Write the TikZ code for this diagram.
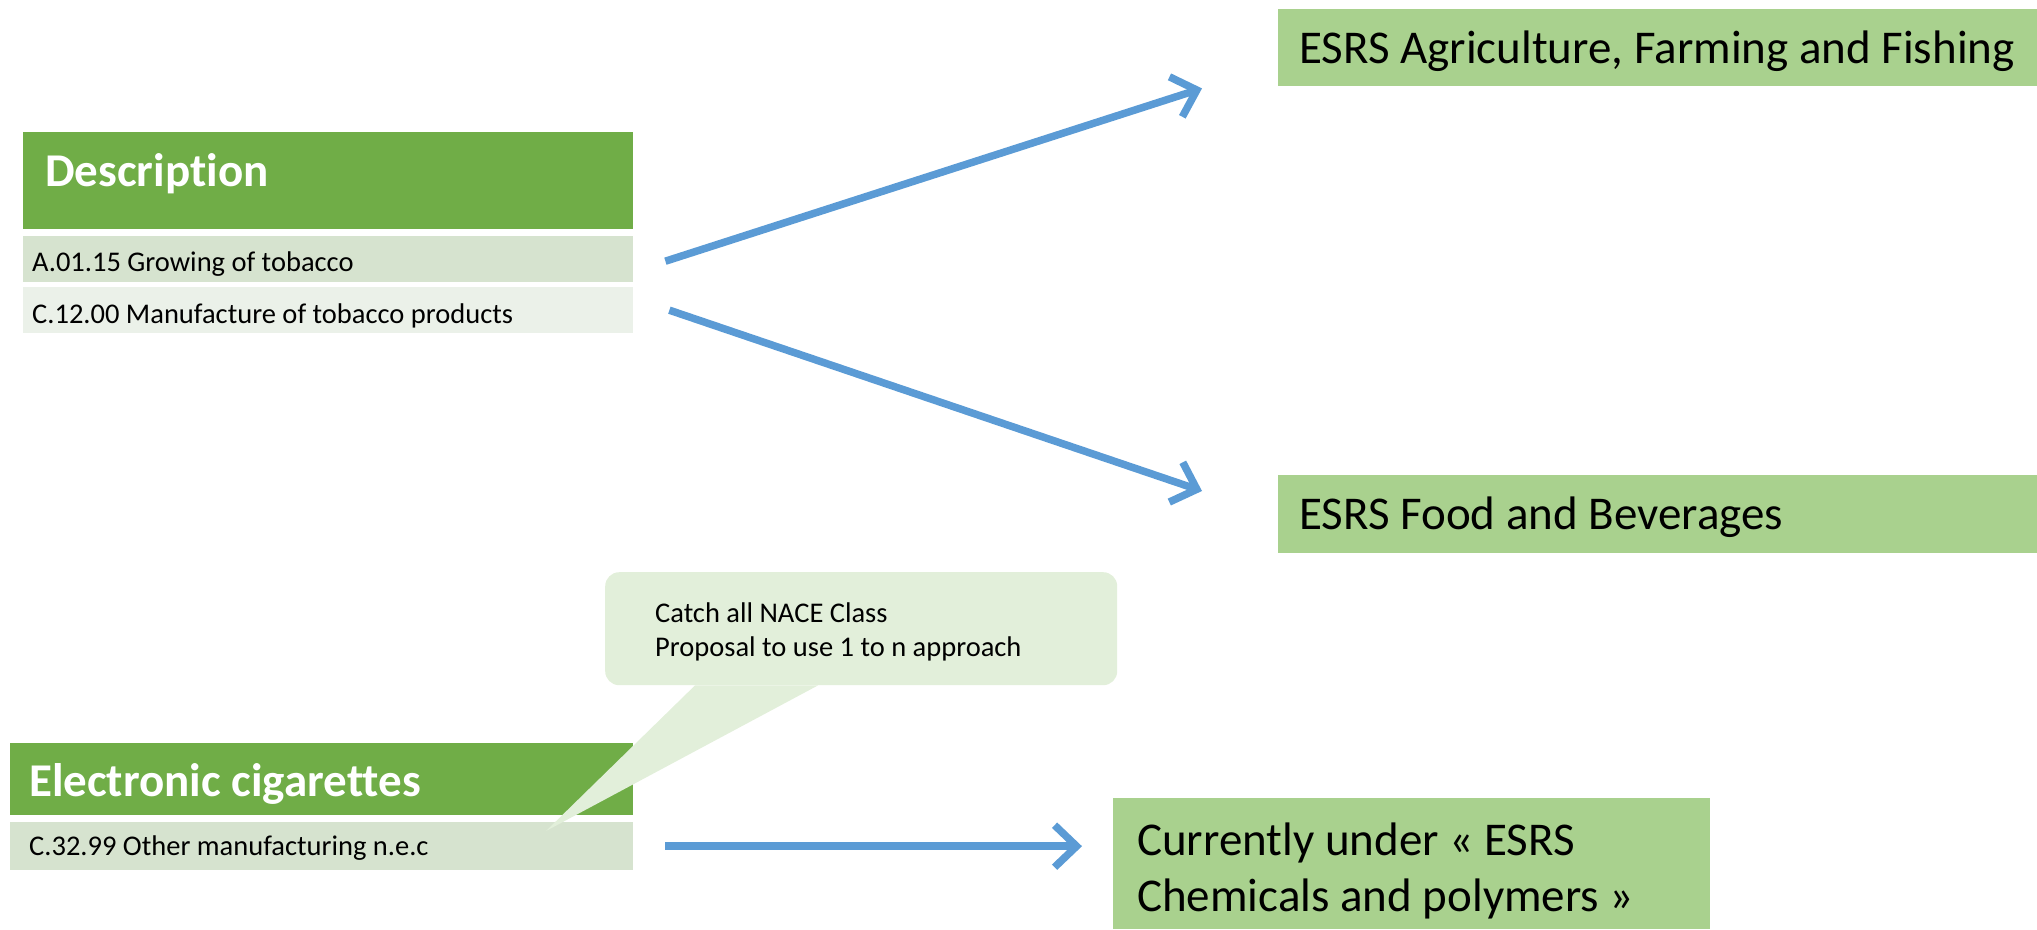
\documentclass[tikz,border=0pt]{standalone}
\usepackage{fontspec}
\setmainfont{Carlito}[Ligatures={NoCommon}]
\usetikzlibrary{arrows.meta,calc}
\definecolor{hdrgreen}{HTML}{70AD47}
\definecolor{rowa}{HTML}{D6E3CF}
\definecolor{rowb}{HTML}{EBF1E9}
\definecolor{tgtgreen}{HTML}{A9D18E}
\definecolor{callgreen}{HTML}{E2EFDA}
\definecolor{arrowblue}{HTML}{5B9BD5}
\tikzset{
  box/.style={rectangle, inner sep=0pt, anchor=north west},
  hdr/.style={box, fill=hdrgreen},
  rowA/.style={box, fill=rowa},
  rowB/.style={box, fill=rowb},
  tgt/.style={box, fill=tgtgreen},
  bigtxt/.style={anchor=base west, inner sep=0pt, font=\fontsize{47}{56}\selectfont},
  hdrtxt/.style={bigtxt, text=white, font=\fontsize{47}{56}\selectfont\bfseries},
  smalltxt/.style={anchor=base west, inner sep=0pt, font=\fontsize{28.5}{34}\selectfont},
  conn/.style={draw=arrowblue, line width=7.5pt, -{Straight Barb[length=22pt,width=42pt]}},
}
\begin{document}
\begin{tikzpicture}[x=1pt,y=-1pt]
\useasboundingbox (0,0) rectangle (2037,929);
% Description table
\node[hdr, minimum width=610pt, minimum height=97pt] (h1) at (23,132) {};
\node[hdrtxt] (h1t) at (45,186) {Description};
\node[rowA, minimum width=610pt, minimum height=46pt] (r1) at (23,236) {};
\node[smalltxt] (r1t) at (32,271) {A.01.15 Growing of tobacco};
\node[rowB, minimum width=610pt, minimum height=46pt] (r2) at (23,287) {};
\node[smalltxt] (r2t) at (32,323) {C.12.00 Manufacture of tobacco products};
% Electronic cigarettes table
\node[hdr, minimum width=623pt, minimum height=72pt] (h2) at (10,743) {};
\node[hdrtxt] (h2t) at (29,796) {Electronic cigarettes};
\node[rowA, minimum width=623pt, minimum height=48pt] (r3) at (10,822) {};
\node[smalltxt] (r3t) at (29,855) {C.32.99 Other manufacturing n.e.c};
% Target boxes
\node[tgt, minimum width=759pt, minimum height=77pt] (agri) at (1278,9) {};
\node[bigtxt] (agrit) at (1299,63) {ESRS Agriculture, Farming and Fishing};
\node[tgt, minimum width=759pt, minimum height=78pt] (food) at (1278,475) {};
\node[bigtxt] (foodt) at (1299,529) {ESRS Food and Beverages};
\node[tgt, minimum width=597pt, minimum height=131pt] (curr) at (1113,798) {};
\node[bigtxt] (currt1) at (1137,855) {Currently under « ESRS};
\node[bigtxt] (currt2) at (1137,911) {Chemicals and polymers »};
% Callout
\node[box, fill=callgreen, rounded corners=14pt, minimum width=512pt, minimum height=113pt] (call) at (605,572) {};
\coordinate (tip) at (546,831);
\fill[callgreen] ([xshift=90pt]call.south west) -- (tip) -- ([xshift=213pt]call.south west) -- cycle;
\node[smalltxt] (callt1) at (655,622) {Catch all NACE Class};
\node[smalltxt] (callt2) at (655,656) {Proposal to use 1 to n approach};
% Connectors
\draw[conn] ([xshift=32pt,yshift=-2pt]r1.east) -- ([xshift=-76pt,yshift=-2pt]agri.south west);
\draw[conn] ([xshift=36pt]r2.east) -- ([xshift=-76pt,yshift=-16pt]food.north west);
\draw[conn] ([xshift=32pt]r3.east) -- ([xshift=-31pt]r3.east -| curr.west);
\end{tikzpicture}
\end{document}
